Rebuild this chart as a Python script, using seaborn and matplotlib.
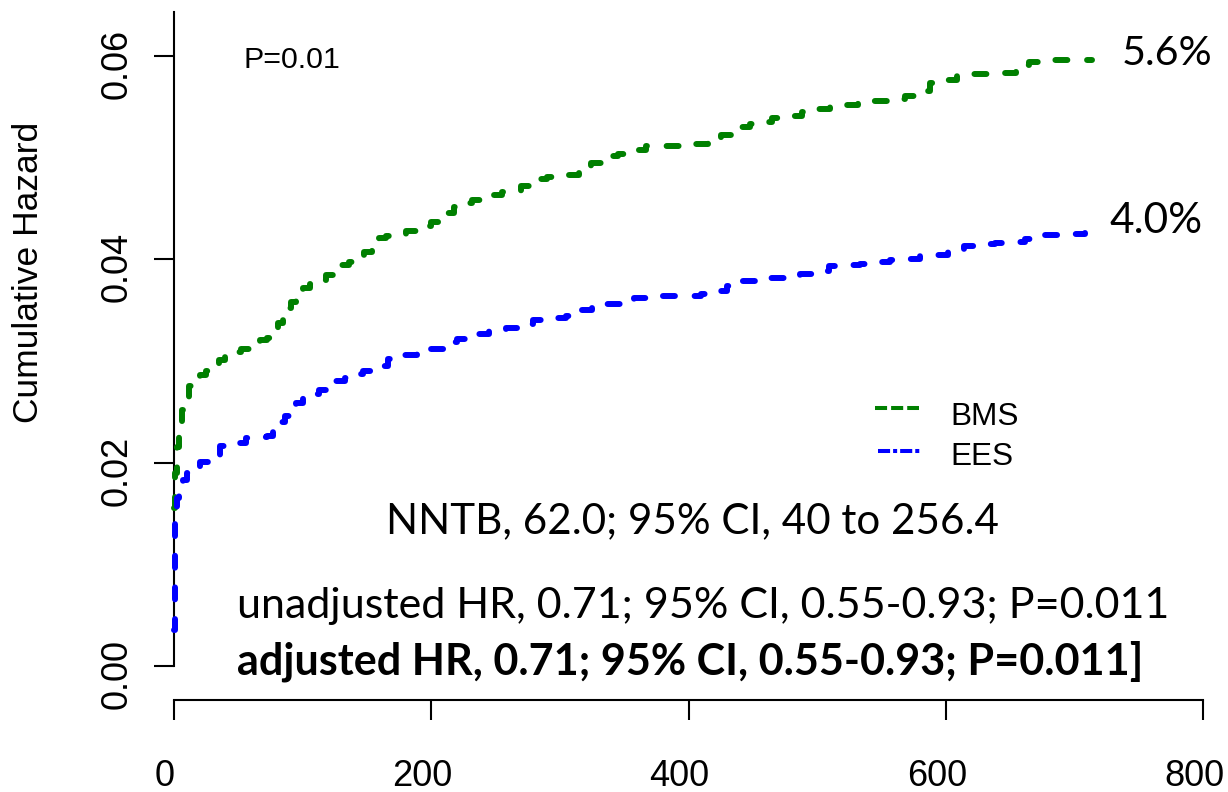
import matplotlib
matplotlib.use("Agg")
import matplotlib.pyplot as plt
import matplotlib.transforms as mtransforms
from matplotlib.lines import Line2D
import numpy as np
import pandas as pd
import seaborn as sns

# ---- cumulative hazard estimates (days, cumulative hazard) ----
bms_time = [0, 0.5, 2, 4, 6, 9, 12, 16, 20, 25, 29, 35, 40, 45, 52, 60, 67, 72, 78, 81,
            85, 88, 91, 95, 100, 106, 112, 118, 124, 130, 136, 142, 148, 154, 159, 165,
            172, 180, 190, 200, 207, 213, 218, 225, 232, 240, 248, 255, 262, 270, 277,
            283, 290, 298, 305, 315, 324, 333, 340, 345, 355, 367, 380, 393, 405, 415,
            425, 433, 440, 448, 455, 465, 477, 488, 499, 510, 521, 532, 543, 555, 568,
            578, 588, 598, 609, 620, 634, 645, 655, 665, 677, 690, 714]
bms_cumhaz = [0.0155, 0.0190, 0.0215, 0.0235, 0.0252, 0.0265, 0.0275, 0.0281, 0.0286,
              0.0290, 0.0294, 0.0301, 0.0306, 0.0309, 0.0312, 0.0316, 0.0321, 0.0323,
              0.0330, 0.0337, 0.0345, 0.0352, 0.0358, 0.0366, 0.0372, 0.0376, 0.0380,
              0.0385, 0.0391, 0.0394, 0.0397, 0.0401, 0.0407, 0.0414, 0.0421, 0.0423,
              0.0425, 0.0428, 0.0433, 0.0437, 0.0441, 0.0446, 0.0451, 0.0455, 0.0458,
              0.0459, 0.0463, 0.0466, 0.0467, 0.0472, 0.0476, 0.0479, 0.0481, 0.0482,
              0.0483, 0.0489, 0.0495, 0.0500, 0.0502, 0.0504, 0.0508, 0.0511, 0.0511,
              0.0511, 0.0513, 0.0517, 0.0522, 0.0527, 0.0530, 0.0533, 0.0535, 0.0539,
              0.0541, 0.0545, 0.0548, 0.0550, 0.0552, 0.0554, 0.0556, 0.0558, 0.0561,
              0.0566, 0.0573, 0.0576, 0.0580, 0.0582, 0.0583, 0.0583, 0.0591, 0.0594,
              0.0596, 0.0596, 0.0596]

ees_time = [0, 0.5, 2, 4, 7, 10, 14, 20, 28, 36, 45, 56, 65, 72, 77, 82, 86, 90, 95,
            100, 106, 113, 120, 126, 133, 140, 147, 155, 166, 178, 189, 200, 210, 220,
            232, 245, 258, 268, 279, 292, 305, 315, 325, 335, 347, 358, 370, 396, 410,
            419, 430, 440, 452, 463, 475, 487, 498, 509, 520, 533, 545, 557, 570, 580,
            590, 602, 614, 626, 638, 650, 662, 673, 685, 697, 708]
ees_cumhaz = [0.0035, 0.0153, 0.0165, 0.0175, 0.0183, 0.0190, 0.0196, 0.0201, 0.0207,
              0.0216, 0.0219, 0.0224, 0.0225, 0.0226, 0.0234, 0.0240, 0.0246, 0.0253,
              0.0259, 0.0264, 0.0268, 0.0271, 0.0275, 0.0280, 0.0283, 0.0287, 0.0290,
              0.0295, 0.0302, 0.0306, 0.0310, 0.0312, 0.0319, 0.0322, 0.0327, 0.0330,
              0.0332, 0.0336, 0.0340, 0.0342, 0.0344, 0.0350, 0.0353, 0.0356, 0.0359,
              0.0362, 0.0364, 0.0364, 0.0366, 0.0369, 0.0374, 0.0379, 0.0381, 0.0382,
              0.0384, 0.0386, 0.0389, 0.0393, 0.0394, 0.0395, 0.0397, 0.0399, 0.0400,
              0.0403, 0.0404, 0.0410, 0.0413, 0.0415, 0.0416, 0.0417, 0.0420, 0.0424,
              0.0424, 0.0425, 0.0426]

groups = ["BMS", "EES"]
group_colors = {"BMS": "#008000", "EES": "#0000FF"}
end_labels = {"BMS": "5.6%", "EES": "4.0%"}

x_ticks = [0, 200, 400, 600, 800]
y_ticks = [0.00, 0.02, 0.04, 0.06]
y_tick_labels = ["0.00", "0.02", "0.04", "0.06"]

p_text = "P=0.01"
nntb_text = "NNTB, 62.0; 95% CI, 40 to 256.4"
unadj_text = "unadjusted HR, 0.71; 95% CI, 0.55-0.93; P=0.011"
adj_text = "adjusted HR, 0.71; 95% CI, 0.55-0.93; P=0.011]"

assert len(bms_time) == len(bms_cumhaz)
assert len(ees_time) == len(ees_cumhaz)

df = pd.concat([
    pd.DataFrame({"time": bms_time, "cumhaz": bms_cumhaz, "stent": "BMS"}),
    pd.DataFrame({"time": ees_time, "cumhaz": ees_cumhaz, "stent": "EES"}),
], ignore_index=True)

# ---- figure ----
sns.set_theme(style="white")
plt.rcParams["font.family"] = ["Liberation Sans", "DejaVu Sans"]

W, H = 1228, 792
fig = plt.figure(figsize=(W / 100, H / 100), dpi=100)

# axes box in pixels: x 0..800 -> 174..1203, baseline of x axis at 700, top at 12
ax_left, ax_right, ax_top, ax_bottom = 174, 1203, 12, 700
ax = fig.add_axes([ax_left / W, 1 - ax_bottom / H,
                   (ax_right - ax_left) / W, (ax_bottom - ax_top) / H])

px_per_y = 610 / 0.06
y_lo = -(ax_bottom - 666) / px_per_y
y_hi = 0.06 + (56 - ax_top) / px_per_y
ax.set_xlim(0, 800)
ax.set_ylim(y_lo, y_hi)

for g in groups:
    sns.lineplot(data=df[df["stent"] == g], x="time", y="cumhaz", ax=ax,
                 color=group_colors[g], drawstyle="steps-post", estimator=None,
                 sort=False, linewidth=4.3, legend=False)
    ln = ax.lines[-1]
    ln.set_linestyle((0, (2.0, 3.3)))
    ln.set_dash_capstyle("round")
    ln.set_clip_on(False)
    ln.set_zorder(3)

ax.set_facecolor("white")
ax.grid(False)
for s in ["top", "right"]:
    ax.spines[s].set_visible(False)
for s in ["left", "bottom"]:
    ax.spines[s].set_color("black")
    ax.spines[s].set_linewidth(1.5)
ax.spines["left"].set_bounds(0, y_hi)
ax.spines["bottom"].set_bounds(0, 800)

ax.set_xticks(x_ticks)
ax.set_xticklabels([str(t) for t in x_ticks])
ax.set_yticks(y_ticks)
ax.set_yticklabels(y_tick_labels, rotation=90, va="center")
ax.tick_params(axis="both", which="major", direction="out", length=14.4, width=1.5,
               color="black", labelsize=26, labelcolor="black")
ax.tick_params(axis="x", pad=28, bottom=True)
ax.tick_params(axis="y", pad=14, left=True)
ax.set_xlabel("")
ax.set_ylabel("")

# slight offsets of tick labels
dx = mtransforms.ScaledTranslation(-0.09, 0, fig.dpi_scale_trans)
dy = mtransforms.ScaledTranslation(0, -0.08, fig.dpi_scale_trans)
for lab in ax.get_xticklabels():
    lab.set_transform(lab.get_transform() + dx)
for lab in ax.get_yticklabels():
    lab.set_transform(lab.get_transform() + dy)

fig.text(28.5 / W, 1 - 272 / H, "Cumulative Hazard", rotation=90,
         ha="center", va="center", fontsize=25.5, color="black")

renderer = fig.canvas.get_renderer()


def fitted_text(s, left, base, width, family, weight="normal"):
    """Place text by left edge / baseline (pixels) scaled to a given pixel width."""
    t = fig.text(left / W, 1 - base / H, s, ha="left", va="baseline",
                 fontsize=20, family=family, weight=weight, color="black")
    w = t.get_window_extent(renderer=renderer).width
    t.set_fontsize(20 * width / w)
    return t


calibri_like = ["Lato", "DejaVu Sans"]
arial_like = ["Liberation Sans", "DejaVu Sans"]

fitted_text(p_text, 243, 68, 97, arial_like)
fitted_text(end_labels["BMS"], 1122, 65, 91, calibri_like)
fitted_text(end_labels["EES"], 1109, 233, 93, calibri_like)
fitted_text(nntb_text, 386, 533, 612, calibri_like)
fitted_text(unadj_text, 237, 618, 935, calibri_like)
fitted_text(adj_text, 237, 675, 908, calibri_like, weight="bold")

# legend keys
fig.add_artist(Line2D([875 / W, 919 / W], [1 - 408 / H] * 2, transform=fig.transFigure,
                      color=group_colors["BMS"], linewidth=2.9,
                      linestyle=(0, (3, 1)), dash_capstyle="butt"))
fig.add_artist(Line2D([878 / W, 920 / W], [1 - 451 / H] * 2, transform=fig.transFigure,
                      color=group_colors["EES"], linewidth=2.9,
                      linestyle=(0, (3, 0.75, 1, 0.75)), dash_capstyle="butt"))
fitted_text("BMS", 950, 425, 68, arial_like)
fitted_text("EES", 950, 465, 63, arial_like)

fig.savefig("out.png", dpi=100, facecolor="white")
